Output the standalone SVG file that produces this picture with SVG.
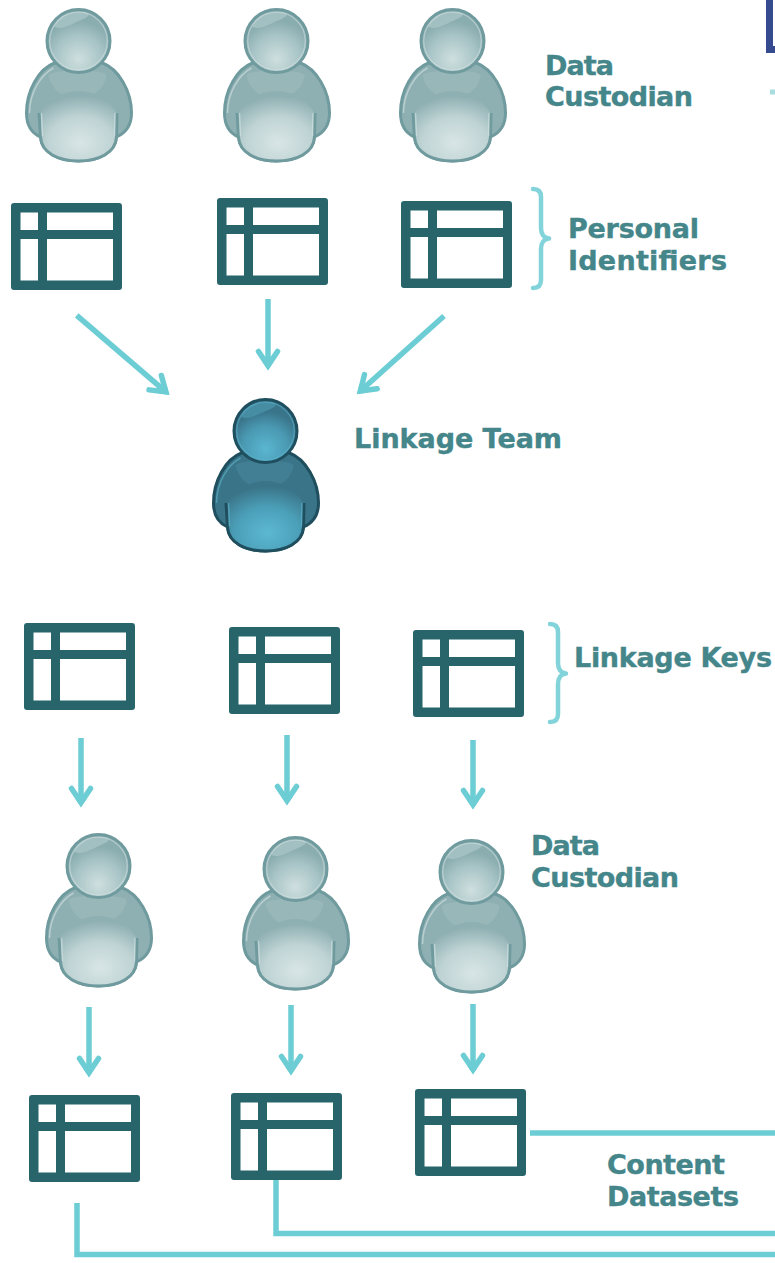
<svg xmlns="http://www.w3.org/2000/svg" width="775" height="1263" viewBox="0 0 775 1263">
<style>
text{font-family:"DejaVu Sans","Liberation Sans",sans-serif;font-weight:700;font-size:27px;fill:#44868a;stroke:#44868a;stroke-width:.4}
.c{fill:none;stroke:#6ccdd4;stroke-width:5.500}
.b{fill:none;stroke:#6ccdd4;stroke-width:4.500;stroke-linecap:round;stroke-linejoin:round;opacity:.85}
.t{fill:#27656b;fill-rule:evenodd}
.o{stroke:var(--o)}.rim{stroke:var(--rim)}.bd{fill:var(--bd)}.to{fill:var(--to)}.he{fill:var(--he)}.hi{fill:var(--hi)}.ch{fill:var(--ch)}
.l{--o:#6f9a9e;--rim:#d4e2e2;--bd:#8fb0b3;--to:url(#lt);--he:url(#lh);--hi:#a2bfc1;--ch:#98b7b9}
.d{--o:#1f4f5e;--rim:#5fb4cc;--bd:#3a7488;--to:url(#dt);--he:url(#dh);--hi:#468da4;--ch:#427f94}
</style>
<defs>
<radialGradient id="lt" gradientUnits="userSpaceOnUse" cx="2" cy="102" r="58" gradientTransform="translate(0 20) scale(1 .8)"><stop offset="0" stop-color="#d8e5e5"/><stop offset=".55" stop-color="#c0d4d5"/><stop offset="1" stop-color="#8fb0b3"/></radialGradient>
<radialGradient id="lh" gradientUnits="userSpaceOnUse" cx="0" cy="18" r="38"><stop offset="0" stop-color="#cfdfdf"/><stop offset=".6" stop-color="#a9c5c7"/><stop offset="1" stop-color="#8aadb0"/></radialGradient>
<radialGradient id="dt" gradientUnits="userSpaceOnUse" cx="2" cy="102" r="58" gradientTransform="translate(0 20) scale(1 .8)"><stop offset="0" stop-color="#5cb8d2"/><stop offset=".55" stop-color="#4b9fb8"/><stop offset="1" stop-color="#3a7488"/></radialGradient>
<radialGradient id="dh" gradientUnits="userSpaceOnUse" cx="0" cy="18" r="38"><stop offset="0" stop-color="#5ab6d0"/><stop offset=".6" stop-color="#4a99b2"/><stop offset="1" stop-color="#39748a"/></radialGradient>
<marker id="a" markerUnits="userSpaceOnUse" markerWidth="26" markerHeight="30" refX="14.500" refY="0" orient="auto" viewBox="-2 -15 26 30"><path d="M2,-9.500L16,0L2,9.500" fill="none" stroke="#6ccdd4" stroke-width="5.500" stroke-linecap="round"/><path d="M20.500,0L12,-5.800V5.800Z" fill="#6ccdd4"/></marker>
<path id="tb" class="t" d="M3,0H108a3,3 0 0 1 3,3V84a3,3 0 0 1-3,3H3a3,3 0 0 1-3-3V3a3,3 0 0 1 3-3ZM9.500,9.500V27H27V9.500ZM36,9.500V27H102V9.500ZM9.500,36V77.500H27V36ZM36,36V77.500H102V36Z"/>
<g id="p">
<path class="bd o" stroke-width="3" d="M-24,22C-40,28 -52,50 -52,72C-52,84 -47,92 -38,96C-37,112 -20,120 0,120C20,120 37,112 38,96C47,92 53,84 53,72C53,50 40,28 24,22Z"/>
<path class="ch" d="M-30,34C-24,28 24,28 28,34C26,50 12,57 -2,57C-16,57 -27,49 -30,34Z"/>
<path class="to" d="M-38,72C-30,58 -15,50 0,50C15,50 30,58 38,72V96C37,111 20,119 0,119C-20,119 -37,111 -38,96Z"/>
<path class="o" fill="none" stroke-width="3" d="M-39.500,72L-38,96C-37,112 -20,120 0,120C20,120 37,112 38,96L38.500,72"/>
<path class="rim" fill="none" stroke-width="1.500" opacity=".6" d="M-25,27C-38,34 -49,52 -49,72M-37,72L-36,95M36.500,72L36,95"/>
<circle class="he" r="31"/>
<path class="hi" d="M-24,-14C-22,-26 -10,-29 2,-29C12,-29 16,-26 -2,-19C-10,-15 -18,-11 -24,-14Z"/>
<circle class="o" r="31.500" fill="none" stroke-width="3"/>
<circle class="rim" r="28.800" fill="none" stroke-width="1.300" opacity=".55"/>
</g>
</defs>
<g id="corner-fragments"><rect x="769.500" y="-10" width="14" height="59.500" fill="#fff" stroke="#364a8f" stroke-width="7"/><rect x="770" y="89.500" width="5" height="5" fill="#a9dde0"/></g>
<g id="connectors">
<path class="c" marker-end="url(#a)" d="M76.700,315.300L164.700,390.800"/>
<path class="c" marker-end="url(#a)" d="M268,299V364"/>
<path class="c" marker-end="url(#a)" d="M444,316L361.500,390"/>
<path class="c" marker-end="url(#a)" d="M81,738V801"/>
<path class="c" marker-end="url(#a)" d="M287,735V799"/>
<path class="c" marker-end="url(#a)" d="M473,740V803"/>
<path class="c" marker-end="url(#a)" d="M89,1007V1071"/>
<path class="c" marker-end="url(#a)" d="M291,1005V1069"/>
<path class="c" marker-end="url(#a)" d="M473,1004V1068"/>
<path class="c" d="M530,1133H775"/>
<path class="c" d="M276,1180V1233.500H775"/>
<path class="c" d="M77,1203V1254.500H775"/>
</g>
<g id="person-1" class="l"><use href="#p" x="78.500" y="41"/></g>
<g id="person-2" class="l"><use href="#p" x="276.500" y="41"/></g>
<g id="person-3" class="l"><use href="#p" x="452.500" y="41"/></g>
<g id="linkage-team" class="d"><use href="#p" x="265.500" y="431"/></g>
<g id="person-4" class="l"><use href="#p" x="98.500" y="866"/></g>
<g id="person-5" class="l"><use href="#p" x="295.500" y="869"/></g>
<g id="person-6" class="l"><use href="#p" x="471.500" y="872"/></g>
<g id="table-1"><use href="#tb" x="11" y="203"/></g>
<g id="table-2"><use href="#tb" x="217" y="198"/></g>
<g id="table-3"><use href="#tb" x="401" y="201"/></g>
<g id="table-4"><use href="#tb" x="24" y="623"/></g>
<g id="table-5"><use href="#tb" x="229" y="627"/></g>
<g id="table-6"><use href="#tb" x="413" y="630"/></g>
<g id="table-7"><use href="#tb" x="29" y="1095"/></g>
<g id="table-8"><use href="#tb" x="231" y="1093"/></g>
<g id="table-9"><use href="#tb" x="415" y="1089"/></g>
<g id="brace-1"><path class="b" d="M533,189C539,189 541,192 541,197V228C541,234 544,238 549,238.500C544,239 541,243 541,249V280C541,285 539,288 533,288"/></g>
<g id="brace-2"><path class="b" d="M550,624C556,624 558,627 558,632V663C558,669 561,673 566,673.500C561,674 558,678 558,684V714C558,719 556,722 550,722"/></g>
<g id="label-custodian-1"><text x="545" y="75" textLength="69">Data</text><text x="545" y="106" textLength="148">Custodian</text></g>
<g id="label-identifiers"><text x="568" y="238" textLength="131">Personal</text><text x="568" y="270" textLength="159">Identifiers</text></g>
<g id="label-team"><text x="354" y="448" textLength="208">Linkage Team</text></g>
<g id="label-keys"><text x="574" y="667" textLength="198">Linkage Keys</text></g>
<g id="label-custodian-2"><text x="531" y="855" textLength="69">Data</text><text x="531" y="887" textLength="148">Custodian</text></g>
<g id="label-content"><text x="607" y="1174" textLength="118">Content</text><text x="607" y="1206" textLength="132">Datasets</text></g>
</svg>
